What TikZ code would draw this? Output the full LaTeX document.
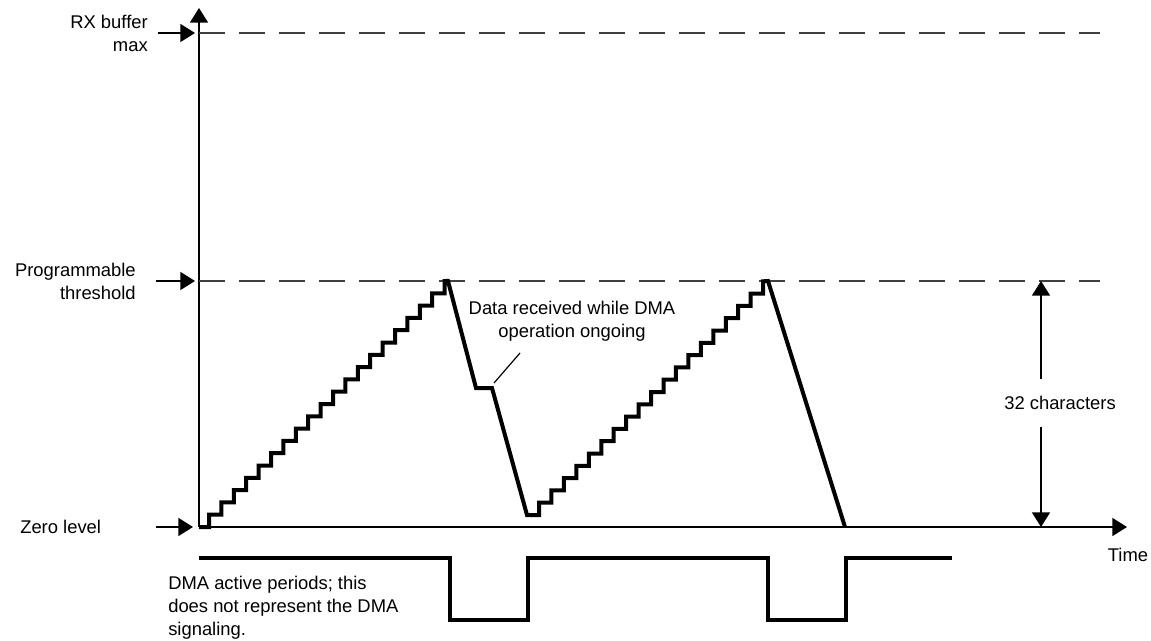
\documentclass[tikz,border=0pt]{standalone}
\usepackage{fontspec}
\setmainfont{Liberation Sans}
\definecolor{dashgray}{rgb}{0.25, 0.25, 0.25}
\usepackage{tikz}
\usetikzlibrary{
    arrows.meta,
    positioning,
    calc
}
\tikzstyle{axis} = [
    line width=1.2pt,
    draw=black
]
\tikzstyle{marker} = [
    -{Triangle[length=11pt,width=13.5pt]},
    line width=1.2pt,
    draw=black
]
\tikzstyle{level} = [
    dash pattern=on 19.5pt off 10.5pt,
    line width=1.2pt,
    draw=dashgray
]
\tikzstyle{signal} = [
    line width=3pt,
    line join=miter,
    draw=black
]
\tikzstyle{txt} = [
    font=\fontsize{13.8}{17.3}\selectfont,
    inner sep=0pt
]

\begin{document}
\begin{tikzpicture}[x=0.75pt, y=-0.75pt]
        \useasboundingbox (0,0) rectangle (1151,641);

        % Axes
        \coordinate (origin) at (199,527);
        \coordinate (ytop) at (199,8);
        \coordinate (xend) at (1127,527);
        \draw[marker] (origin) -- (ytop);
        \draw[marker] (origin) -- (xend);

        % Levels
        \coordinate (rxlvl) at (199,33);
        \coordinate (rxend) at (1100,33);
        \coordinate (thlvl) at (199,281);
        \coordinate (thend) at (1100,281);
        \draw[level] (rxlvl) -- (rxend);
        \draw[level] (thlvl) -- (thend);
        \draw[marker] ([xshift=-31pt]rxlvl) -- ([xshift=-3pt]rxlvl);
        \draw[marker] ([xshift=-32pt]thlvl) -- ([xshift=-3pt]thlvl);
        \draw[marker] ([xshift=-32pt]origin) -- ([xshift=-4.5pt]origin);

        % Level labels
        \node[txt, align=right, anchor=east] (rxmax) at (148,33) {RX buffer\\max};
        \node[txt, align=right, anchor=east] (thresh) at (136,281) {Programmable\\threshold};
        \node[txt, anchor=west] (zero) at (20,527) {Zero level};
        \node[txt] (time) at (1128,555) {Time};

        % Buffer fill
        \draw[signal] (origin) -- (209,527)
            \foreach \k in {1,...,19} { -- ++(0,-12.3) -- ++(12.4,0) }
            -- ++(0,-12.3) -- (448,281) -- (476,388) -- (492,388)
            -- (527,515) -- (539,515)
            \foreach \k in {1,...,18} { -- ++(0,-12.3) -- ++(12.45,0) }
            -- ++(0,-12.3) -- (768,281) -- (845,527);

        % Data received note
        \node[txt, align=center] (datalbl) at (572,321) {Data received while DMA\\operation ongoing};
        \coordinate (flatpt) at (494,383);
        \coordinate (leadend) at (520,353);
        \draw[axis, line width=0.9pt] (flatpt) -- (leadend);

        % 32 characters
        \node[txt, minimum height=35pt] (count) at (1060,403) {32 characters};
        \coordinate (dimtop) at (1041,281);
        \coordinate (dimbot) at (1041,527);
        \draw[marker] (count.north -| dimtop) -- (dimtop);
        \draw[marker] (count.south -| dimbot) -- (dimbot);

        % DMA active periods
        \draw[signal] (199,558) -- (450,558) -- (450,620) -- (528,620)
            -- (528,558) -- (768,558) -- (768,620) -- (846,620)
            -- (846,558) -- (952,558);
        \node[txt, align=left, anchor=north west] (dmalbl) at (168,576)
            {DMA active periods; this\\does not represent the DMA\\signaling.};
    \end{tikzpicture}
\end{document}
